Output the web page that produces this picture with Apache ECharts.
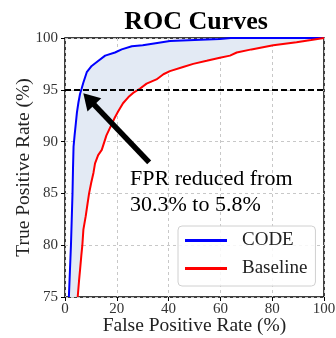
<!DOCTYPE html>
<html>
<head>
<meta charset="utf-8">
<script src="https://cdn.jsdelivr.net/npm/echarts@6/dist/echarts.min.js"></script>
<style>
  html, body { margin: 0; padding: 0; background: #fff; }
  #chart { width: 336px; height: 338px; }
</style>
</head>
<body>
<div id="chart"></div>
<script>
// [FPR %, TPR %]
const codeRoc = [
  [1.5, 75], [1.9, 77.5], [2.3, 80], [2.6, 82.5], [2.9, 85], [3.1, 87.5],
  [3.3, 89.5], [3.7, 90.6], [4.2, 91.8], [4.6, 92.8], [5.2, 93.8], [5.8, 94.6],
  [6.4, 95.1], [7.1, 95.7], [8.4, 96.7], [10.3, 97.3], [12.9, 97.8], [15.5, 98.3],
  [19.3, 98.6], [21.9, 98.9], [25.8, 99.2], [30, 99.3], [35, 99.5], [40.5, 99.7],
  [50, 99.8], [59.8, 99.9], [64, 100], [100, 100]
];
const baselineRoc = [
  [4.9, 75], [5.4, 76.5], [5.8, 77.6], [6.3, 79], [6.7, 80], [7.1, 81.5],
  [8, 82.8], [8.7, 84], [9.3, 85], [10.1, 86], [11, 87], [11.6, 87.9],
  [12.8, 88.7], [14.2, 89.2], [16, 90.6], [17.5, 91.4], [19, 92.2], [20.5, 92.9],
  [22.4, 93.7], [24.5, 94.3], [26.3, 94.7], [28.9, 95.1], [31.5, 95.6], [35.3, 96],
  [38, 96.5], [40.5, 96.8], [45.6, 97.2], [49.5, 97.5], [54.7, 97.8], [59.8, 98.1],
  [63.7, 98.3], [66.3, 98.6], [72, 98.9], [80.4, 99.3], [89.4, 99.6], [95, 99.8],
  [100, 100]
];
const targetTpr = 95;
const arrowFrom = [32.5, 88.0];
const arrowTo = [9.2, 94.1];
const annotationLines = ['FPR reduced from', '30.3% to 5.8%'];

const serif = '"Liberation Serif", "DejaVu Serif", serif';
const fillPoly = codeRoc.concat(baselineRoc.slice().reverse());

const chart = echarts.init(document.getElementById('chart'));

chart.setOption({
  animation: false,
  title: {
    text: 'ROC Curves',
    left: 191,
    textAlign: 'center',
    top: 4,
    textStyle: { fontFamily: serif, fontSize: 26, fontWeight: 'bold', color: '#000' }
  },
  grid: {
    left: 65, top: 38, width: 259, height: 259,
    outerBoundsMode: 'none',
    containLabel: false,
    show: true, borderColor: '#000', borderWidth: 1.5, backgroundColor: 'transparent'
  },
  xAxis: {
    type: 'value', min: 0, max: 100, interval: 20,
    name: 'False Positive Rate (%)', nameLocation: 'middle', nameGap: 19,
    nameMoveOverlap: false,
    nameTextStyle: { fontFamily: serif, fontSize: 19.5, color: '#222' },
    axisLine: { show: false },
    axisTick: { show: true, inside: false, length: 4, lineStyle: { color: '#000' } },
    axisLabel: { fontFamily: serif, fontSize: 15, color: '#333', margin: 5 },
    splitLine: { show: true, lineStyle: { color: '#c8c8c8', type: [3, 3], width: 1 } }
  },
  yAxis: {
    type: 'value', min: 75, max: 100, interval: 5,
    name: 'True Positive Rate (%)', nameLocation: 'middle', nameGap: 31,
    nameMoveOverlap: false,
    nameTextStyle: { fontFamily: serif, fontSize: 19.5, color: '#222' },
    axisLine: { show: false },
    axisTick: { show: true, inside: false, length: 4, lineStyle: { color: '#000' } },
    axisLabel: { fontFamily: serif, fontSize: 15, color: '#333', margin: 7 },
    splitLine: { show: true, lineStyle: { color: '#c8c8c8', type: [3, 3], width: 1 } }
  },
  legend: {
    data: ['CODE', 'Baseline'],
    orient: 'vertical',
    left: 178, top: 226,
    padding: [4, 8, 7, 7],
    itemGap: 7,
    itemWidth: 42, itemHeight: 3,
    icon: 'rect',
    backgroundColor: 'rgba(255,255,255,0.85)',
    borderColor: '#d0d0d0', borderWidth: 1, borderRadius: 4,
    textStyle: { fontFamily: serif, fontSize: 19, color: '#222', lineHeight: 21, padding: [0, 0, 0, 10] }
  },
  series: [
    {
      name: 'gap',
      type: 'custom',
      coordinateSystem: 'cartesian2d',
      data: [[0, 75]],
      clip: true,
      silent: true,
      z: 1,
      renderItem: function (params, api) {
        return {
          type: 'polygon',
          shape: { points: fillPoly.map(function (p) { return api.coord(p); }) },
          style: { fill: '#e3eaf4' }
        };
      }
    },
    {
      name: 'CODE',
      type: 'line',
      data: codeRoc,
      showSymbol: false,
      lineStyle: { color: '#0000ff', width: 2 },
      itemStyle: { color: '#0000ff' },
      z: 3
    },
    {
      name: 'Baseline',
      type: 'line',
      data: baselineRoc,
      showSymbol: false,
      lineStyle: { color: '#ff0000', width: 2 },
      itemStyle: { color: '#ff0000' },
      z: 3
    },
    {
      name: 'marks',
      type: 'line',
      data: [],
      z: 4,
      markLine: {
        silent: true,
        animation: false,
        label: { show: false },
        data: [
          [
            { coord: [0, targetTpr], symbol: 'none', lineStyle: { color: '#000', width: 1.8, type: [6, 3] } },
            { coord: [100, targetTpr], symbol: 'none' }
          ],
          [
            { coord: arrowFrom, symbol: 'none', lineStyle: { color: '#000', width: 5.5, type: 'solid' } },
            { coord: arrowTo, symbol: 'triangle', symbolSize: [19, 16] }
          ]
        ]
      }
    }
  ],
  graphic: [
    {
      type: 'text',
      left: 130, top: 166,
      z: 10,
      style: {
        text: annotationLines.join('\n'),
        font: '22px ' + serif,
        fill: '#000',
        lineHeight: 26
      }
    }
  ]
});
</script>
</body>
</html>
